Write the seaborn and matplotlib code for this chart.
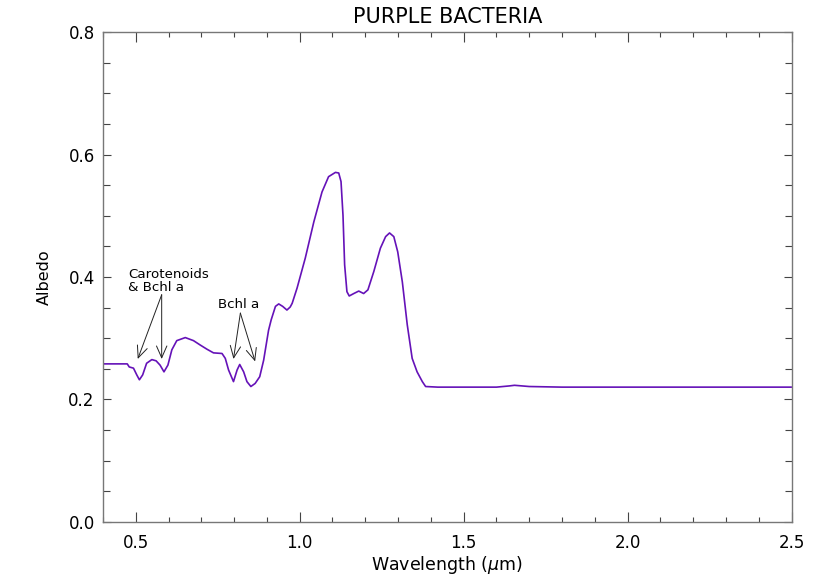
import numpy as np
import pandas as pd
import seaborn as sns
from matplotlib import pyplot as plt
from matplotlib.ticker import MultipleLocator

# spectrum
wavelength = [0.400, 0.474, 0.480, 0.493, 0.503, 0.511, 0.521, 0.533, 0.549, 0.562,
              0.574, 0.586, 0.598, 0.610, 0.625, 0.651, 0.676, 0.696, 0.717, 0.737,
              0.763, 0.773, 0.783, 0.798, 0.809, 0.817, 0.829, 0.839, 0.851, 0.864,
              0.878, 0.890, 0.905, 0.913, 0.926, 0.936, 0.948, 0.961, 0.971, 0.977,
              0.992, 1.017, 1.043, 1.068, 1.088, 1.109, 1.119, 1.126, 1.132, 1.137,
              1.144, 1.151, 1.165, 1.180, 1.195, 1.208, 1.226, 1.246, 1.262, 1.274,
              1.287, 1.299, 1.313, 1.328, 1.343, 1.358, 1.374, 1.384, 1.421, 1.600,
              1.640, 1.655, 1.700, 1.800, 2.000, 2.500]
albedo = [0.258, 0.258, 0.253, 0.251, 0.240, 0.232, 0.240, 0.259, 0.265, 0.263,
          0.256, 0.245, 0.256, 0.281, 0.296, 0.301, 0.296, 0.289, 0.282, 0.276,
          0.275, 0.267, 0.248, 0.229, 0.248, 0.257, 0.245, 0.229, 0.221, 0.226,
          0.237, 0.264, 0.313, 0.330, 0.352, 0.356, 0.352, 0.346, 0.351, 0.357,
          0.382, 0.431, 0.490, 0.539, 0.564, 0.571, 0.570, 0.556, 0.501, 0.420,
          0.376, 0.369, 0.373, 0.377, 0.373, 0.379, 0.409, 0.447, 0.466, 0.472,
          0.466, 0.441, 0.392, 0.322, 0.267, 0.245, 0.229, 0.221, 0.220, 0.220,
          0.222, 0.223, 0.221, 0.220, 0.220, 0.220]

# annotations: text, text position, arrow start, arrow tips
carot_text = "Carotenoids\n& Bchl a"
carot_text_xy = (0.477, 0.372)
carot_start = (0.579, 0.371)
carot_tips = [(0.506, 0.266), (0.579, 0.266)]
bchl_text = "Bchl a"
bchl_text_xy = (0.750, 0.345)
bchl_start = (0.819, 0.341)
bchl_tips = [(0.798, 0.266), (0.864, 0.262)]

df = pd.DataFrame({"wavelength": wavelength, "albedo": albedo})

sns.set_style("ticks")
plt.rcParams["font.family"] = ["DejaVu Sans"]
plt.rcParams["text.color"] = "black"
plt.rcParams["axes.labelcolor"] = "black"
plt.rcParams["xtick.labelcolor"] = "black"
plt.rcParams["ytick.labelcolor"] = "black"

fig = plt.figure(figsize=(8.22, 5.87), dpi=100)
ax = fig.add_axes([0.1253, 0.1112, 0.8376, 0.8338])

sns.lineplot(data=df, x="wavelength", y="albedo", ax=ax, sort=False,
             estimator=None, color="#6512B8", linewidth=1.2)

ax.set_xlim(0.4, 2.5)
ax.set_ylim(0.0, 0.8)
ax.xaxis.set_major_locator(MultipleLocator(0.5))
ax.xaxis.set_minor_locator(MultipleLocator(0.1))
ax.yaxis.set_major_locator(MultipleLocator(0.2))
ax.yaxis.set_minor_locator(MultipleLocator(0.05))
ax.xaxis.set_major_formatter(plt.FormatStrFormatter("%.1f"))
ax.yaxis.set_major_formatter(plt.FormatStrFormatter("%.1f"))

ax.tick_params(which="both", direction="in", top=True, right=True,
               color="#444444", width=0.8, labelsize=12)
ax.tick_params(axis="x", which="major", length=7, pad=9)
ax.tick_params(axis="x", which="minor", length=3.5)
ax.tick_params(axis="y", which="major", length=5.5, pad=6)
ax.tick_params(axis="y", which="minor", length=5)
for s in ax.spines.values():
    s.set_color("#777777")
    s.set_linewidth(1.0)

ax.set_xlabel(r"Wavelength ($\mu$m)", fontsize=12.5, labelpad=1)
ax.set_ylabel("Albedo", fontsize=11.5, labelpad=12)
ax.set_title("PURPLE BACTERIA", fontsize=15, pad=7)

arrow_kw = dict(arrowstyle="->,head_length=0.5,head_width=0.22", color="#222222",
                lw=0.7, shrinkA=0, shrinkB=0, mutation_scale=17)
ax.text(carot_text_xy[0], carot_text_xy[1], carot_text, fontsize=9.6,
        ha="left", va="bottom", linespacing=1.0)
for tip in carot_tips:
    ax.annotate("", xy=tip, xytext=carot_start, arrowprops=arrow_kw)
ax.text(bchl_text_xy[0], bchl_text_xy[1], bchl_text, fontsize=9.6,
        ha="left", va="bottom")
for tip in bchl_tips:
    ax.annotate("", xy=tip, xytext=bchl_start, arrowprops=arrow_kw)

fig.savefig("out.png", dpi=100)
